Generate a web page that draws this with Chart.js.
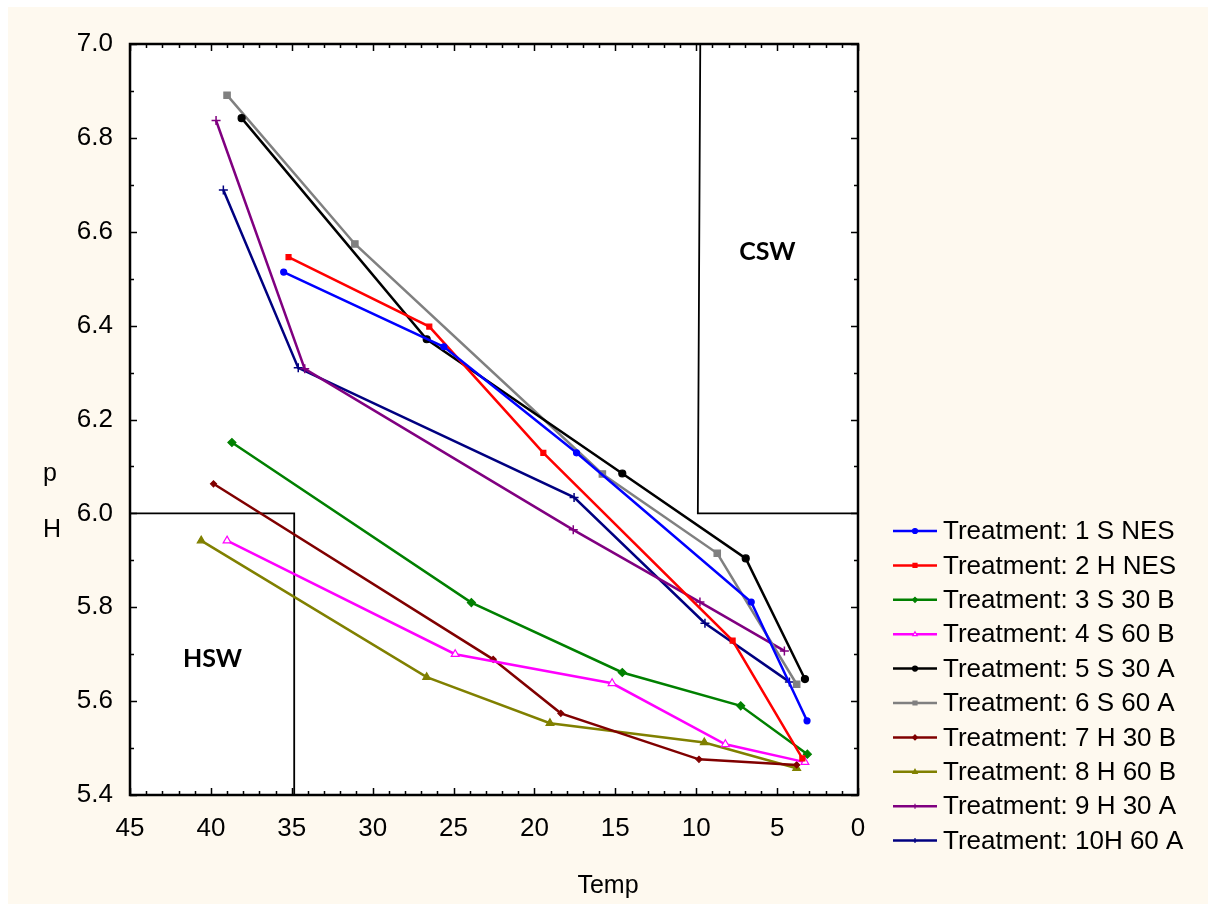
<!DOCTYPE html>
<html>
<head>
<meta charset="utf-8">
<script src="https://cdn.jsdelivr.net/npm/chart.js@4.4.1/dist/chart.umd.min.js"></script>
<style>
  html, body { margin: 0; padding: 0; background: #ffffff; }
  #wrap { width: 1208px; height: 904px; }
</style>
</head>
<body>
<div id="wrap"><canvas id="chart" width="1208" height="904"></canvas></div>
<script>
// Treatment names, as shown in the legend
const treatmentLabels = [
  'Treatment: 1 S NES', 'Treatment: 2 H NES', 'Treatment: 3 S 30 B', 'Treatment: 4 S 60 B',
  'Treatment: 5 S 30 A', 'Treatment: 6 S 60 A', 'Treatment: 7 H 30 B', 'Treatment: 8 H 60 B',
  'Treatment: 9 H 30 A', 'Treatment: 10H 60 A'
];

// Temperature (x) and pH (y) readings for each treatment
const temp1 = [35.5, 25.6, 17.4, 6.6, 3.15];
const ph1   = [6.514, 6.355, 6.129, 5.811, 5.558];
const temp2 = [35.2, 26.5, 19.45, 7.75, 3.44];
const ph2   = [6.546, 6.398, 6.129, 5.729, 5.478];
const temp3 = [38.7, 23.9, 14.57, 7.25, 3.13];
const ph3   = [6.151, 5.810, 5.661, 5.590, 5.487];
const temp4 = [39.0, 24.9, 15.2, 8.2, 3.28];
const ph4   = [5.942, 5.700, 5.638, 5.508, 5.470];
const temp5 = [38.1, 26.66, 14.57, 6.94, 3.28];
const ph5   = [6.842, 6.371, 6.085, 5.904, 5.647];
const temp6 = [39.0, 31.1, 15.8, 8.7, 3.79];
const ph6   = [6.891, 6.574, 6.084, 5.915, 5.636];
const temp7 = [39.84, 22.55, 18.37, 9.83, 3.79];
const ph7   = [6.063, 5.689, 5.574, 5.476, 5.464];
const temp8 = [40.6, 26.66, 19.04, 9.5, 3.79];
const ph8   = [5.942, 5.651, 5.553, 5.512, 5.457];
const temp9 = [39.68, 34.2, 17.6, 9.77, 4.55];
const ph9   = [6.837, 6.308, 5.965, 5.811, 5.707];
const temp10 = [39.23, 34.6, 17.55, 9.46, 4.24];
const ph10   = [6.689, 6.310, 6.034, 5.766, 5.641];

const tempSeries = [temp1, temp2, temp3, temp4, temp5, temp6, temp7, temp8, temp9, temp10];
const phSeries   = [ph1, ph2, ph3, ph4, ph5, ph6, ph7, ph8, ph9, ph10];

const lineColors = ['#0000ff', '#ff0000', '#008000', '#ff00ff', '#000000',
                    '#808080', '#800000', '#808000', '#800080', '#000080'];
const markerStyles = ['circle', 'rect', 'rectRot', 'triangle', 'circle',
                      'rect', 'rectRot', 'triangle', 'cross', 'cross'];
const markerSizes = [3, 3.5, 4, 4.5, 3.5, 4.5, 3, 4.5, 4.5, 4.5];

// Region outlines (hot-water and cold-water zones)
const hswTemp = [45, 34.85, 34.85];
const hswPH   = [6.0, 6.0, 5.4];
const cswTemp = [9.75, 9.9, 0];
const cswPH   = [7.0, 6.0, 6.0];

// Axis ranges and tick steps
const tempMin = 0, tempMax = 45, tempStep = 5;
const phMin = 5.4, phMax = 7.0, phStep = 0.2;

const toPoints = (xs, ys) => xs.map((x, i) => ({ x: x, y: ys[i] }));

const datasets = treatmentLabels.map((label, i) => ({
  label: label,
  data: toPoints(tempSeries[i], phSeries[i]),
  borderColor: lineColors[i],
  backgroundColor: i === 3 ? '#ffffff' : lineColors[i],
  pointBorderColor: lineColors[i],
  pointStyle: markerStyles[i],
  pointRadius: markerSizes[i],
  pointBorderWidth: i >= 8 ? 1.5 : 1.2,
  borderWidth: 2.5,
  tension: 0,
  order: 1
}));

datasets.push({
  label: 'HSW', data: toPoints(hswTemp, hswPH), borderColor: '#000000', borderWidth: 1.8,
  pointRadius: 0, tension: 0, order: 100
});
datasets.push({
  label: 'CSW', data: toPoints(cswTemp, cswPH), borderColor: '#000000', borderWidth: 1.8,
  pointRadius: 0, tension: 0, order: 100
});

const FONT = '"Liberation Sans", Arial, sans-serif';
const CREAM = '#fef9ef';

function drawMarker(ctx, style, r, x, y, color, fill) {
  ctx.save();
  ctx.strokeStyle = color;
  ctx.fillStyle = fill;
  ctx.lineWidth = 1.2;
  ctx.beginPath();
  if (style === 'circle') {
    ctx.arc(x, y, r, 0, Math.PI * 2); ctx.fill(); ctx.stroke();
  } else if (style === 'rect') {
    ctx.rect(x - r * 0.8, y - r * 0.8, r * 1.6, r * 1.6); ctx.fill(); ctx.stroke();
  } else if (style === 'rectRot') {
    ctx.moveTo(x, y - r); ctx.lineTo(x + r, y); ctx.lineTo(x, y + r); ctx.lineTo(x - r, y);
    ctx.closePath(); ctx.fill(); ctx.stroke();
  } else if (style === 'triangle') {
    ctx.moveTo(x, y - r); ctx.lineTo(x + r * 0.9, y + r * 0.6); ctx.lineTo(x - r * 0.9, y + r * 0.6);
    ctx.closePath(); ctx.fill(); ctx.stroke();
  } else if (style === 'cross') {
    ctx.moveTo(x - r, y); ctx.lineTo(x + r, y); ctx.moveTo(x, y - r); ctx.lineTo(x, y + r);
    ctx.stroke();
  }
  ctx.restore();
}

const framePlugin = {
  id: 'frame',
  beforeDraw(chart) {
    const { ctx, chartArea: a } = chart;
    ctx.save();
    ctx.fillStyle = '#ffffff';
    ctx.fillRect(0, 0, chart.width, chart.height);
    ctx.fillStyle = CREAM;
    ctx.fillRect(8, 7, chart.width - 8, chart.height - 7);
    ctx.fillStyle = '#ffffff';
    ctx.fillRect(a.left, a.top, a.right - a.left, a.bottom - a.top);
    ctx.restore();
  },
  afterDraw(chart) {
    const { ctx, chartArea: a, scales } = chart;
    const xs = scales.x, ys = scales.y;
    ctx.save();

    // inward tick marks on all four sides
    ctx.strokeStyle = '#000000';
    ctx.lineWidth = 1.5;
    ctx.beginPath();
    for (let v = tempMin; v <= tempMax + 1e-9; v += 1) {
      const px = Math.round(xs.getPixelForValue(v)) + 0.5;
      const len = (v % tempStep === 0) ? 7 : 4;
      ctx.moveTo(px, a.bottom); ctx.lineTo(px, a.bottom - len);
      ctx.moveTo(px, a.top); ctx.lineTo(px, a.top + len);
    }
    for (let k = 0; k <= 16; k++) {
      const v = phMin + k * 0.1;
      const py = Math.round(ys.getPixelForValue(v)) + 0.5;
      const len = (k % 2 === 0) ? 7 : 4;
      ctx.moveTo(a.left, py); ctx.lineTo(a.left + len, py);
      ctx.moveTo(a.right, py); ctx.lineTo(a.right - len, py);
    }
    ctx.stroke();

    // plot frame
    ctx.lineWidth = 2.5;
    ctx.strokeRect(a.left, a.top, a.right - a.left, a.bottom - a.top);

    // zone labels
    ctx.fillStyle = '#000000';
    ctx.font = 'bold 25px Lato, "Open Sans", sans-serif';
    ctx.textAlign = 'center';
    ctx.textBaseline = 'middle';
    ctx.fillText('HSW', xs.getPixelForValue(39.9), ys.getPixelForValue(5.69));
    ctx.fillText('CSW', xs.getPixelForValue(5.6), ys.getPixelForValue(6.557));

    // axis titles
    ctx.font = '25px ' + FONT;
    ctx.textAlign = 'left';
    ctx.textBaseline = 'alphabetic';
    ctx.fillText('p', 43, 481);
    ctx.fillText('H', 43, 537);
    ctx.textAlign = 'center';
    ctx.fillText('Temp', 608, 893);

    // legend
    const lx0 = 893, lx1 = 937, tx = 943, ly0 = 531, lstep = 34.4;
    ctx.font = '26px ' + FONT;
    ctx.textAlign = 'left';
    ctx.textBaseline = 'middle';
    treatmentLabels.forEach((label, i) => {
      const y = ly0 + i * lstep;
      ctx.strokeStyle = lineColors[i];
      ctx.lineWidth = 2.5;
      ctx.beginPath();
      ctx.moveTo(lx0, y); ctx.lineTo(lx1, y);
      ctx.stroke();
      drawMarker(ctx, markerStyles[i], 2.5, (lx0 + lx1) / 2, y, lineColors[i],
                 i === 3 ? '#ffffff' : lineColors[i]);
      ctx.fillStyle = '#000000';
      ctx.fillText(label, tx, y + 1);
    });
    ctx.restore();
  }
};

new Chart(document.getElementById('chart'), {
  type: 'line',
  data: { datasets: datasets },
  options: {
    responsive: false,
    animation: false,
    devicePixelRatio: 1,
    layout: { padding: { top: 44, right: 350, bottom: 0, left: 0 } },
    plugins: { legend: { display: false }, tooltip: { enabled: false } },
    scales: {
      x: {
        type: 'linear', reverse: true, min: tempMin, max: tempMax,
        grid: { display: false, drawTicks: false }, border: { display: false },
        ticks: { stepSize: tempStep, color: '#000000', padding: 18,
                 font: { family: FONT, size: 26 }, maxRotation: 0 },
        afterFit(scale) { scale.height = 109; }
      },
      y: {
        type: 'linear', min: phMin, max: phMax,
        grid: { display: false, drawTicks: false }, border: { display: false },
        ticks: { stepSize: phStep, color: '#000000', padding: 17,
                 font: { family: FONT, size: 26 },
                 callback: (v) => Number(v).toFixed(1) },
        afterFit(scale) { scale.width = 130; }
      }
    }
  },
  plugins: [framePlugin]
});
</script>
</body>
</html>
